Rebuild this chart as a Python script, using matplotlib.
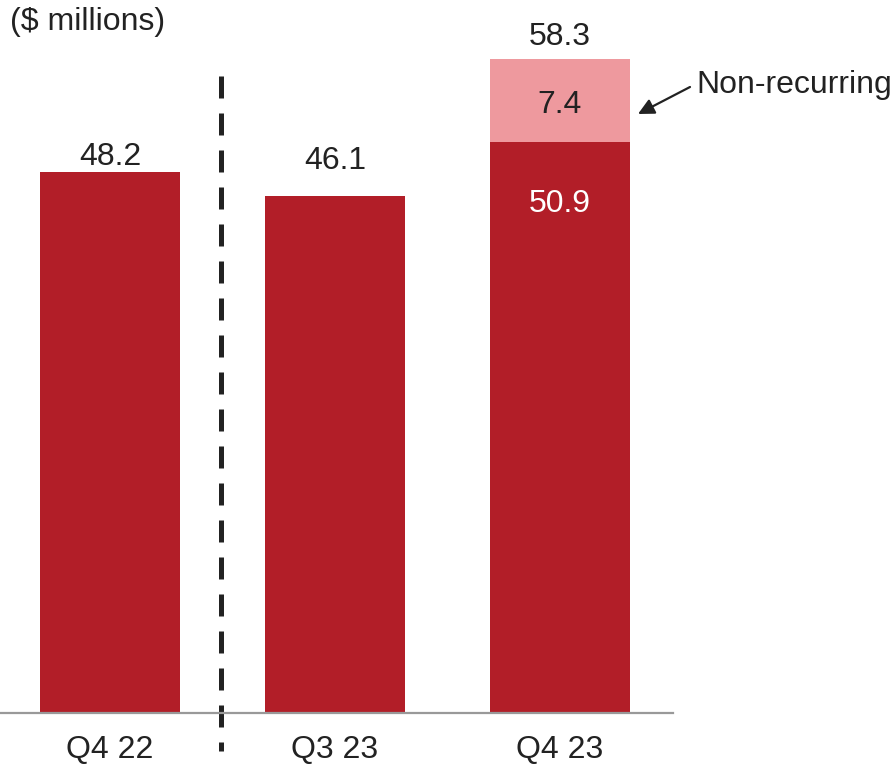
import matplotlib.pyplot as plt

plt.rcParams['font.family'] = ['Liberation Sans', 'DejaVu Sans']

# data
quarters = ["Q4 22", "Q3 23", "Q4 23"]
recurring = [48.2, 46.1, 50.9]
non_recurring = [0.0, 0.0, 7.4]
totals = [48.2, 46.1, 58.3]

dark_red = '#B21E28'
light_red = '#EE999E'
text_col = '#222222'
fs = 23

fig = plt.figure(figsize=(8.93, 7.66), dpi=100)
ax = fig.add_axes([0, 53 / 766, 673 / 893, 713 / 766])

x = list(range(len(quarters)))
ax.bar(x, recurring, width=0.622, color=dark_red)
ax.bar(x, non_recurring, width=0.622, bottom=recurring, color=light_red)

ax.set_xlim(-0.489, 2.502)
ax.set_ylim(0, 63.52)

# total labels above bars (hand placed offsets, in points)
offsets = [0, 14, 5]
for i in range(len(quarters)):
    top = recurring[i] + non_recurring[i]
    ax.annotate(f"{totals[i]:.1f}", (x[i], top), xytext=(0, offsets[i]),
                textcoords='offset points', ha='center', va='bottom',
                fontsize=fs, color=text_col)

# labels inside the stacked bar
ax.annotate(f"{non_recurring[2]:.1f}", (x[2], recurring[2] + non_recurring[2] / 2),
            xytext=(0, -3.5), textcoords='offset points',
            ha='center', va='center', fontsize=fs, color=text_col)
ax.annotate(f"{recurring[2]:.1f}", (x[2], recurring[2]), xytext=(0, -45),
            textcoords='offset points', ha='center', va='center',
            fontsize=fs, color='white')

# non-recurring callout
fig.text(696 / 893, 1 - 85 / 766, "Non-recurring", ha='left', va='center',
         fontsize=fs, color=text_col)
ax.annotate("", xy=(638 / 893, 1 - 114 / 766), xycoords='figure fraction',
            xytext=(690 / 893, 1 - 87 / 766), textcoords='figure fraction',
            arrowprops=dict(arrowstyle='-|>', color=text_col, lw=1.6,
                            mutation_scale=24, shrinkA=0, shrinkB=0))

# dashed separator
ax.plot([0.493, 0.493], [56.75, -3.4], color=text_col, lw=3.6,
        dashes=(4.4, 3.0), clip_on=False)

fig.text(10 / 893, 1 - 22 / 766, "($ millions)", ha='left', va='center',
         fontsize=fs, color=text_col)

ax.set_xticks(x)
ax.set_xticklabels(quarters, fontsize=fs, color=text_col)
ax.tick_params(axis='x', length=0, pad=16)
ax.set_yticks([])
for s in ['top', 'right', 'left']:
    ax.spines[s].set_visible(False)
ax.spines['bottom'].set_color('#999999')
ax.spines['bottom'].set_linewidth(1.6)
ax.patch.set_alpha(0)

fig.savefig('out.png', dpi=100)
